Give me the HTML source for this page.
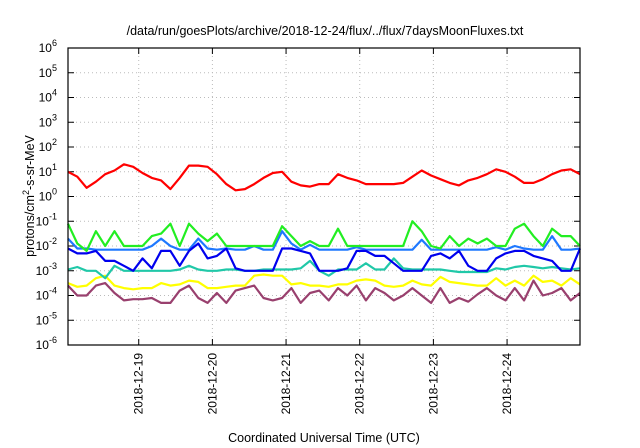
<!DOCTYPE html>
<html><head><meta charset="utf-8"><style>
html,body{margin:0;padding:0;background:#fff;}
svg{display:block;font-family:"Liberation Sans",sans-serif;}
</style></head><body>
<svg id="chart" width="640" height="448"></svg>
<script>
const dayLabels=["2018-12-19","2018-12-20","2018-12-21","2018-12-22","2018-12-23","2018-12-24"];
const dayOffsets=[0,1,2,3,4,5];
const yTickExps=[6,5,4,3,2,1,0,-1,-2,-3,-4,-5,-6];
const tStart=-0.96, tEnd=5.99;
const seriesRed=[1.0,0.8,0.35,0.6,0.9,1.05,1.3,1.2,0.95,0.75,0.65,0.3,0.75,1.25,1.25,1.2,0.9,0.5,0.25,0.3,0.5,0.75,0.95,1.0,0.6,0.45,0.4,0.5,0.5,0.9,0.75,0.65,0.5,0.5,0.5,0.5,0.55,0.8,1.05,0.85,0.7,0.55,0.45,0.65,0.75,0.9,1.1,1.0,0.8,0.55,0.55,0.7,0.9,1.05,1.1,0.9];
const seriesGreen=[-1.1,-1.9,-2.2,-1.4,-2.0,-1.4,-2.0,-2.0,-2.0,-1.6,-1.5,-1.1,-2.0,-1.1,-1.5,-1.8,-1.5,-2.0,-2.0,-2.0,-2.0,-2.0,-2.0,-1.2,-1.6,-2.0,-1.8,-2.0,-2.0,-1.3,-2.0,-2.0,-2.0,-2.0,-2.0,-2.0,-2.0,-1.0,-1.4,-2.0,-2.1,-1.6,-2.0,-1.7,-1.9,-1.7,-2.0,-2.0,-1.3,-1.1,-1.6,-2.0,-1.3,-1.6,-1.6,-2.0];
const seriesLightBlue=[-1.7,-2.1,-2.1,-2.15,-2.15,-2.15,-2.15,-2.15,-2.15,-2.0,-1.7,-2.0,-2.15,-2.15,-1.7,-2.1,-2.15,-2.1,-2.15,-2.15,-2.0,-2.15,-2.15,-1.4,-1.9,-2.15,-1.95,-2.15,-2.15,-2.15,-2.15,-2.05,-2.15,-2.15,-2.15,-2.15,-2.15,-2.15,-1.75,-2.15,-2.15,-2.15,-2.15,-2.15,-2.15,-2.15,-2.05,-2.15,-2.0,-2.1,-2.15,-2.15,-1.6,-2.15,-2.15,-2.1];
const seriesBlue=[-2.1,-2.3,-2.3,-2.2,-2.6,-2.6,-2.8,-3.0,-2.5,-2.9,-2.2,-2.2,-2.8,-2.2,-1.9,-2.5,-2.4,-2.1,-2.9,-3.0,-3.0,-3.0,-3.0,-2.1,-2.1,-2.2,-2.3,-3.0,-3.0,-3.0,-2.9,-2.2,-2.2,-2.4,-2.4,-2.7,-3.0,-3.0,-3.0,-2.4,-2.3,-2.5,-2.2,-2.8,-3.0,-3.0,-2.5,-2.3,-2.2,-2.2,-2.4,-2.5,-2.6,-3.0,-3.0,-2.1];
const seriesTeal=[-2.95,-2.85,-3.0,-3.0,-3.3,-2.8,-3.0,-3.0,-3.0,-3.0,-3.0,-3.0,-2.95,-2.8,-2.95,-3.0,-3.0,-2.95,-2.95,-3.0,-3.0,-2.95,-2.95,-2.95,-2.95,-2.9,-2.6,-3.0,-3.2,-2.95,-2.95,-2.95,-2.7,-2.95,-2.95,-2.5,-2.9,-2.95,-2.95,-2.95,-2.95,-3.0,-3.05,-3.05,-3.05,-3.05,-2.9,-2.95,-2.85,-2.8,-2.85,-2.9,-2.85,-2.9,-2.95,-2.9];
const seriesYellow=[-3.5,-3.65,-3.6,-3.3,-3.2,-3.6,-3.7,-3.75,-3.7,-3.7,-3.5,-3.6,-3.55,-3.4,-3.45,-3.7,-3.7,-3.65,-3.6,-3.6,-3.2,-3.15,-3.2,-3.2,-3.55,-3.5,-3.6,-3.6,-3.65,-3.55,-3.55,-3.4,-3.35,-3.4,-3.6,-3.65,-3.6,-3.4,-3.55,-3.6,-3.25,-3.45,-3.5,-3.55,-3.6,-3.6,-3.3,-3.6,-3.4,-3.6,-3.2,-3.45,-3.4,-3.6,-3.3,-3.55];
const seriesPurple=[-3.6,-4.0,-4.0,-3.6,-3.5,-3.9,-4.2,-4.15,-4.15,-4.1,-4.3,-4.3,-3.8,-3.6,-4.1,-4.3,-3.9,-4.3,-3.8,-3.7,-3.6,-4.1,-4.2,-4.1,-3.7,-4.3,-3.9,-3.8,-4.2,-3.7,-4.0,-3.6,-4.2,-3.7,-3.9,-4.2,-4.0,-3.7,-4.0,-4.3,-3.7,-4.3,-4.1,-4.25,-3.95,-3.7,-4.0,-4.2,-3.7,-4.2,-3.4,-4.0,-3.9,-3.7,-4.2,-3.9];

const L=68,R=580,T=48,B=345;
const NS="http://www.w3.org/2000/svg";
const svg=document.getElementById('chart');
function xT(t){return L+(t-tStart)/(tEnd-tStart)*(R-L);}
function yE(e){return T+(6-e)/12*(B-T);}
function mk(tag,attrs,parent){const el=document.createElementNS(NS,tag);for(const k in attrs)el.setAttribute(k,attrs[k]);(parent||svg).appendChild(el);return el;}

// grid
yTickExps.forEach(e=>{
  const y=yE(e);
  if(e!==6&&e!==-6){const g=mk('line',{x1:L,x2:R,y1:y,y2:y,stroke:'#bbb','stroke-width':1,'stroke-dasharray':'1,3'});
  
  }
  const tk=mk('line',{x1:L,x2:L+6,y1:y,y2:y,stroke:'#000'});
  
  
  const tk2=mk('line',{x1:R-6,x2:R,y1:y,y2:y,stroke:'#000'});
  
  
  const tx=mk('text',{x:57,y:y+4,'text-anchor':'end','font-size':12,fill:'#000'});
  
  
  tx.textContent='10';
  const sp=mk('tspan',{dy:-6,'font-size':9},tx);sp.textContent=String(e);
});
dayOffsets.forEach((d,i)=>{
  const x=xT(d);
  const g=mk('line',{x1:x,x2:x,y1:T,y2:B,stroke:'#bbb','stroke-width':1,'stroke-dasharray':'1,3'});
  
  
  const tk=mk('line',{x1:x,x2:x,y1:B-6,y2:B,stroke:'#000'});
  
  
  const tk2=mk('line',{x1:x,x2:x,y1:T,y2:T+6,stroke:'#000'});
  
  
  const tx=mk('text',{x:0,y:0,'text-anchor':'end','font-size':12,fill:'#000',transform:`translate(${x+4},353) rotate(-90)`});
  
  
  tx.textContent=dayLabels[i];
});

// series
const seriesList=[
 [seriesPurple,'#99406e','series-purple'],
 [seriesYellow,'#ffff00','series-yellow'],
 [seriesTeal,'#20c8a8','series-teal'],
 [seriesLightBlue,'#1e78ff','series-light-blue'],
 [seriesGreen,'#22ee22','series-green'],
 [seriesBlue,'#0000ee','series-blue'],
 [seriesRed,'#ff0000','series-red']];
seriesList.forEach(([vals,col,name])=>{
  const n=vals.length;
  const pts=vals.map((v,i)=>xT(tStart+i*(tEnd-tStart)/(n-1)).toFixed(1)+','+yE(v).toFixed(1)).join(' ');
  const pl=mk('polyline',{points:pts,fill:'none',stroke:col,'stroke-width':2.2,'stroke-linejoin':'round'});
  
  
});

const fr=mk('rect',{x:L,y:T,width:R-L,height:B-T,fill:'none',stroke:'#000','stroke-width':1.2});



const title=mk('text',{x:325,y:35,'text-anchor':'middle','font-size':12.5,fill:'#000'});


title.textContent='/data/run/goesPlots/archive/2018-12-24/flux/../flux/7daysMoonFluxes.txt';

const xl=mk('text',{x:324,y:442,'text-anchor':'middle','font-size':12.5,fill:'#000'});


xl.textContent='Coordinated Universal Time (UTC)';

const yl=mk('text',{x:0,y:0,'text-anchor':'middle','font-size':12.5,fill:'#000',transform:'translate(34,196) rotate(-90)'});


yl.textContent='protons/cm';
const s2=mk('tspan',{dy:-5,'font-size':9},yl);s2.textContent='2';
const s3=mk('tspan',{dy:5},yl);s3.textContent='-s-sr-MeV';
</script>
</body></html>
